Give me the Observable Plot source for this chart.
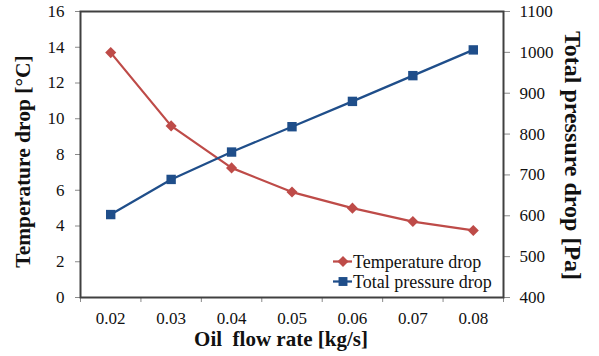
<!DOCTYPE html>
<html>
<head>
<meta charset="utf-8">
<script src="https://cdn.jsdelivr.net/npm/d3@7"></script>
<script src="https://cdn.jsdelivr.net/npm/@observablehq/plot@0.6"></script>
<style>
  html, body { margin: 0; padding: 0; background: #fff; }
  #chart { width: 599px; height: 356px; }
</style>
</head>
<body>
<div id="chart"></div>
<script>
// ---- data ----
const flowRate = [0.02, 0.03, 0.04, 0.05, 0.06, 0.07, 0.08];
const xTickLabels = ["0.02", "0.03", "0.04", "0.05", "0.06", "0.07", "0.08"];
const tempDrop = [13.7, 9.6, 7.25, 5.9, 5.0, 4.25, 3.75];
const pressureDrop = [603, 689, 756, 818, 880, 943, 1006];
const tempTicks = [0, 2, 4, 6, 8, 10, 12, 14, 16];
const pressureTicks = [400, 500, 600, 700, 800, 900, 1000, 1100];
const seriesNames = ["Temperature drop", "Total pressure drop"];
const seriesColors = ["#BE4B48", "#1F4E8A"];

const FONT = "'Times New Roman', 'Liberation Serif', Tinos, serif";

// right axis (pressure) mapped onto left axis (temperature) range
const tMin = 0, tMax = 16, pMin = 400, pMax = 1100;
const pToT = p => tMin + (p - pMin) / (pMax - pMin) * (tMax - tMin);
const tToP = t => pMin + (t - tMin) / (tMax - tMin) * (pMax - pMin);

const step = flowRate[1] - flowRate[0];
const boundaries = [flowRate[0] - step / 2, ...flowRate.map(v => v + step / 2)];

const tempData = flowRate.map((x, i) => ({x, y: tempDrop[i]}));
const presData = flowRate.map((x, i) => ({x, y: pToT(pressureDrop[i])}));

const chart = Plot.plot({
  width: 599,
  height: 356,
  marginLeft: 80,
  marginRight: 96,
  marginTop: 11,
  marginBottom: 59,
  style: {fontFamily: FONT, fontSize: "17px", background: "#fff", color: "#111"},
  x: {domain: [boundaries[0], boundaries[boundaries.length - 1]]},
  y: {domain: [tMin, tMax]},
  marks: [
    Plot.axisX(boundaries, {tickSize: 5, stroke: "#8a8a8a", tickFormat: () => "", label: null}),
    Plot.axisX(flowRate, {tickSize: 0, tickPadding: 14, fill: "#111", fontFamily: FONT, fontSize: 17, tickFormat: (d) => xTickLabels[flowRate.indexOf(d)], label: null}),
    Plot.axisY(tempTicks, {anchor: "left", tickSize: 5, tickPadding: 11, stroke: "#8a8a8a", fill: "#111", fontFamily: FONT, fontSize: 17, label: null}),
    Plot.axisY(pressureTicks.map(pToT), {anchor: "right", tickSize: 6, tickPadding: 10, stroke: "#8a8a8a", fill: "#111", fontFamily: FONT, fontSize: 17, tickFormat: v => String(Math.round(tToP(v))), label: null}),
    Plot.frame({stroke: "#404040", strokeWidth: 2}),
    Plot.line(tempData, {x: "x", y: "y", stroke: seriesColors[0], strokeWidth: 2.25}),
    Plot.dot(tempData, {x: "x", y: "y", symbol: "diamond2", r: 5, fill: seriesColors[0], stroke: "none"}),
    Plot.line(presData, {x: "x", y: "y", stroke: seriesColors[1], strokeWidth: 2.25}),
    Plot.dot(presData, {x: "x", y: "y", symbol: "square", r: 5.3, fill: seriesColors[1], stroke: "none"}),
    Plot.text(["Temperature drop [°C]"], {frameAnchor: "left", textAnchor: "middle", lineAnchor: "middle", rotate: -90, dx: -57.5, dy: 7, text: d => d, fontFamily: FONT, fontWeight: "bold", fontSize: 21.5, fill: "#111"}),
    Plot.text(["Total pressure drop [Pa]"], {frameAnchor: "right", textAnchor: "middle", lineAnchor: "middle", rotate: 90, dx: 69, dy: 1, text: d => d, fontFamily: FONT, fontWeight: "bold", fontSize: 24, fill: "#111"}),
    Plot.text(["Oil\u00A0 flow rate [kg/s]"], {frameAnchor: "bottom", textAnchor: "middle", lineAnchor: "middle", dx: -11, dy: 42, text: d => d, fontFamily: FONT, fontWeight: "bold", fontSize: 21, fill: "#111"})
  ]
});

document.getElementById("chart").appendChild(chart);

// legend inside plot area (bottom-right)
const svg = d3.select(chart);
const frameRight = 599 - 96, frameBottom = 356 - 59;
const lg = svg.append("g").attr("font-family", FONT).attr("font-size", 18).attr("text-anchor", "start");
const symbols = [d3.symbolDiamond2, d3.symbolSquare];
const symSizes = [Math.PI * 25, Math.PI * 5.3 * 5.3 * 0.9];
seriesNames.forEach((name, i) => {
  const cy = frameBottom - 35.5 + i * 20;
  const x0 = frameRight - 170;
  const g = lg.append("g").attr("transform", `translate(${x0},${cy})`);
  g.append("line").attr("x1", 0).attr("x2", 19).attr("y1", 0).attr("y2", 0)
    .attr("stroke", seriesColors[i]).attr("stroke-width", 2.25);
  g.append("path").attr("d", d3.symbol(symbols[i], symSizes[i])()).attr("transform", "translate(10,0)")
    .attr("fill", seriesColors[i]);
  g.append("text").attr("x", 20).attr("y", 0).attr("dy", "0.35em").attr("text-anchor", "start").attr("fill", "#111").text(name);
});
</script>
</body>
</html>
